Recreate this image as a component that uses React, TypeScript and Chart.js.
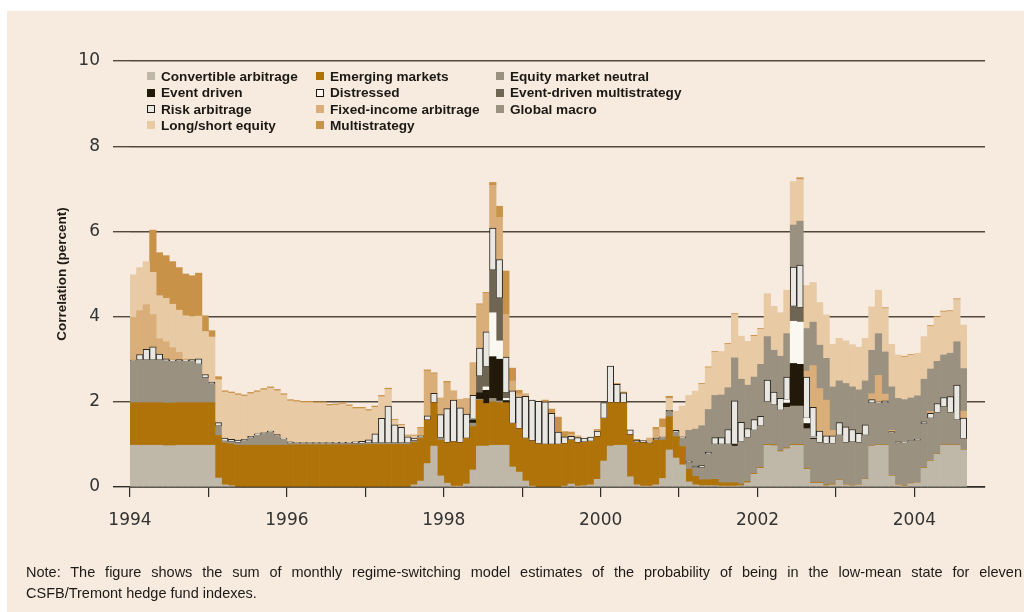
import React, { useEffect, useRef } from 'react';
import { Chart, registerables } from 'chart.js';

Chart.register(...registerables);

// Monthly values, Jan 1994 .. Aug 2004 (one row per year)
const convertibleArbitrage = [
  0.98, 0.98, 0.98, 0.98, 0.98, 0.97, 0.97, 0.98, 0.98, 0.98, 0.98, 0.98,
  0.98, 0.21, 0.05, 0.03, 0, 0, 0, 0, 0, 0, 0, 0,
  0, 0, 0, 0, 0, 0, 0, 0, 0, 0, 0, 0,
  0, 0, 0, 0, 0, 0, 0, 0.05, 0.14, 0.55, 0.96, 0.26,
  0.09, 0.02, 0.02, 0.07, 0.4, 0.96, 0.96, 0.98, 0.98, 0.98, 0.47, 0.35,
  0.14, 0.02, 0, 0, 0, 0, 0.02, 0.07, 0.02, 0.03, 0.05, 0.18,
  0.61, 0.96, 0.98, 0.98, 0.24, 0.05, 0.02, 0.02, 0.05, 0.2, 0.87, 0.68,
  0.52, 0.12, 0.05, 0.03, 0.03, 0.03, 0.02, 0.02, 0.02, 0.03, 0.1, 0.3,
  0.44, 0.98, 0.97, 0.83, 0.9, 0.98, 0.98, 0.42, 0.09, 0.09, 0.03, 0.05,
  0.16, 0.05, 0.03, 0.05, 0.18, 0.96, 0.98, 0.98, 0.26, 0.05, 0.02, 0.08,
  0.1, 0.44, 0.61, 0.77, 0.98, 0.98, 0.98, 0.87,
];

const emergingMarkets = [
  1.0, 1.0, 1.0, 1.0, 1.0, 1.0, 1.0, 1.0, 1.0, 1.0, 1.0, 1.0,
  1.0, 1.0, 0.98, 0.98, 0.98, 0.98, 0.98, 0.98, 0.98, 0.98, 0.98, 0.98,
  0.99, 0.99, 0.99, 0.99, 0.99, 0.99, 0.99, 0.99, 0.99, 0.99, 0.99, 0.99,
  1.0, 1.0, 1.0, 1.0, 1.0, 1.0, 1.0, 1.0, 1.0, 1.02, 1.02, 0.84,
  0.95, 1.04, 1.02, 1.07, 1.02, 1.08, 1.0, 1.02, 1.0, 1.0, 1.02, 1.02,
  1.0, 1.06, 1.01, 1.0, 1.0, 1.0, 1.0, 1.03, 1.02, 1.02, 1.02, 1.0,
  1.0, 1.02, 1.0, 1.0, 0.98, 1.0, 1.02, 1.0, 1.05, 0.9, 0.78, 0.5,
  0.43, 0.3, 0.2, 0.14, 0.14, 0.15, 0.08, 0.08, 0.08, 0.04, 0.03, 0.02,
  0.02, 0.02, 0.02, 0.02, 0.02, 0.02, 0.02, 0.02, 0.02, 0.02, 0.02, 0.02,
  0.01, 0.01, 0.01, 0.01, 0.01, 0.01, 0.01, 0.01, 0.01, 0.01, 0.01, 0.01,
  0.01, 0.01, 0.01, 0.01, 0.01, 0.01, 0.01, 0.01,
];

const equityMarketNeutral = [
  0.98, 1.0, 1.0, 1.0, 1.0, 0.98, 0.98, 0.98, 0.97, 0.97, 0.9, 0.58,
  0.44, 0.22, 0.04, 0.05, 0.06, 0.1, 0.17, 0.23, 0.27, 0.3, 0.22, 0.14,
  0.04, 0.03, 0.03, 0.03, 0.03, 0.03, 0.03, 0.03, 0.03, 0.03, 0.03, 0.03,
  0.03, 0.03, 0.03, 0.03, 0.03, 0.03, 0.03, 0.03, 0.03, 0, 0, 0.05,
  0, 0, 0, 0, 0.08, 0.02, 0, 0.08, 0.04, 0, 0, 0,
  0, 0, 0, 0, 0, 0, 0, 0, 0, 0, 0, 0,
  0, 0, 0, 0, 0, 0, 0, 0, 0, 0.06, 0.12, 0.1,
  0.2, 0.15, 0.2, 0.28, 0.6, 0.82, 0.9, 0.9, 0.86, 0.98, 1.03, 1.01,
  0.97, 1.0, 0.93, 0.95, 0.95, 0.9, 0.9, 0.93, 1.01, 0.93, 0.97, 0.95,
  1.04, 0.98, 1.01, 0.98, 1.02, 1.0, 0.98, 0.98, 1.0, 0.98, 1.0, 0.98,
  0.98, 1.03, 0.99, 0.96, 0.89, 0.75, 0.58, 0.25,
];

const eventDriven = [
  0, 0, 0, 0, 0, 0, 0, 0, 0, 0, 0, 0,
  0, 0, 0, 0, 0, 0, 0, 0, 0, 0, 0, 0,
  0, 0, 0, 0, 0, 0, 0, 0, 0, 0, 0, 0,
  0, 0, 0, 0, 0, 0, 0, 0, 0, 0, 0, 0,
  0, 0, 0, 0, 0.08, 0.15, 0.31, 0.98, 0.98, 0.05, 0, 0,
  0, 0, 0, 0, 0, 0, 0, 0, 0, 0, 0, 0,
  0, 0, 0, 0, 0, 0, 0, 0, 0, 0, 0, 0,
  0, 0, 0, 0, 0, 0, 0, 0, 0.04, 0, 0, 0,
  0, 0, 0, 0, 0.1, 1.0, 0.98, 0.12, 0.03, 0, 0, 0,
  0, 0, 0, 0, 0, 0, 0, 0, 0, 0, 0, 0,
  0, 0, 0, 0, 0, 0, 0, 0,
];

const distressed = [
  0, 0, 0, 0, 0, 0, 0, 0, 0, 0, 0, 0,
  0, 0, 0, 0, 0, 0, 0, 0, 0, 0, 0, 0,
  0, 0, 0, 0, 0, 0, 0, 0, 0, 0, 0, 0,
  0, 0, 0, 0, 0, 0, 0, 0, 0, 0, 0, 0,
  0, 0, 0, 0, 0.02, 0, 0.08, 1.03, 0.43, 0.05, 0, 0,
  0, 0, 0, 0, 0, 0, 0, 0, 0, 0, 0, 0,
  0, 0, 0, 0, 0, 0, 0, 0, 0, 0, 0, 0,
  0, 0, 0, 0, 0, 0, 0, 0, 0, 0, 0, 0,
  0, 0, 0, 0, 0.08, 0.99, 0.99, 0.12, 0.03, 0, 0, 0,
  0, 0, 0, 0, 0, 0, 0, 0, 0, 0, 0, 0,
  0, 0, 0, 0, 0, 0, 0, 0,
];

const eventDrivenMultistrategy = [
  0, 0, 0, 0, 0, 0, 0, 0, 0, 0, 0, 0,
  0, 0, 0, 0, 0, 0, 0, 0, 0, 0, 0, 0,
  0, 0, 0, 0, 0, 0, 0, 0, 0, 0, 0, 0,
  0, 0, 0, 0, 0, 0, 0, 0, 0, 0, 0, 0,
  0, 0, 0, 0, 0, 0.39, 0.47, 1.0, 1.0, 0.13, 0, 0,
  0, 0, 0, 0, 0, 0, 0, 0, 0, 0, 0, 0,
  0, 0, 0, 0, 0, 0, 0, 0, 0, 0, 0, 0,
  0, 0, 0, 0, 0, 0, 0, 0, 0, 0, 0, 0,
  0, 0, 0, 0, 0, 0.35, 0.34, 0, 0, 0, 0, 0,
  0, 0, 0, 0, 0, 0, 0, 0, 0, 0, 0, 0,
  0, 0, 0, 0, 0, 0, 0, 0,
];

const riskArbitrage = [
  0.02, 0.13, 0.25, 0.31, 0.14, 0.06, 0.03, 0.03, 0.03, 0.04, 0.13, 0.08,
  0.04, 0.08, 0.08, 0.06, 0.06, 0.04, 0.04, 0.04, 0.03, 0.03, 0.03, 0.03,
  0.03, 0.02, 0.02, 0.02, 0.02, 0.02, 0.02, 0.03, 0.03, 0.03, 0.04, 0.05,
  0.08, 0.22, 0.58, 0.87, 0.43, 0.37, 0.15, 0.07, 0.03, 0.1, 0.22, 0.55,
  0.8, 0.98, 0.82, 0.57, 0.55, 0.66, 0.82, 0.99, 0.91, 0.84, 0.77, 0.74,
  0.99, 0.96, 1.0, 1.0, 0.73, 0.29, 0.16, 0.09, 0.12, 0.1, 0.1, 0.13,
  0.37, 0.86, 0.43, 0.23, 0.12, 0.05, 0.05, 0.03, 0.05, 0.02, 0.03, 0.05,
  0.03, 0.04, 0.04, 0.05, 0.05, 0.16, 0.16, 0.35, 1.02, 0.47, 0.21, 0.25,
  0.23, 0.51, 0.31, 0.28, 0.53, 0.92, 1.0, 0.97, 0.69, 0.27, 0.18, 0.18,
  0.3, 0.37, 0.3, 0.22, 0.25, 0.08, 0.03, 0.05, 0.03, 0.02, 0.02, 0.02,
  0.03, 0.05, 0.12, 0.22, 0.22, 0.38, 0.82, 0.49,
];

const fixedIncomeArbitrage = [
  1.0, 1.03, 1.05, 0.76, 0.36, 0.4, 0.29, 0.17, 0.02, 0, 0, 0,
  0, 0, 0, 0, 0, 0, 0, 0, 0, 0, 0, 0,
  0, 0, 0, 0, 0, 0, 0, 0, 0, 0, 0, 0,
  0, 0, 0, 0, 0, 0, 0, 0, 0.18, 1.05, 0.46, 0.39,
  0.61, 0.22, 0.2, 0.37, 0.77, 1.02, 0.91, 1.0, 0.99, 1.0, 0.23, 0.08,
  0.06, 0, 0, 0, 0, 0, 0, 0.05, 0.04, 0, 0, 0.02,
  0, 0, 0, 0, 0, 0, 0, 0.1, 0.2, 0, 0, 0,
  0, 0, 0, 0, 0, 0, 0, 0, 0, 0, 0, 0,
  0, 0, 0, 0, 0, 0, 0, 0.14, 0.98, 1.0, 0.84, 0.13,
  0, 0, 0, 0, 0, 0.14, 0.62, 0.16, 0.03, 0, 0, 0,
  0, 0, 0.04, 0, 0, 0, 0, 0.16,
];

const globalMacro = [
  0, 0, 0, 0, 0, 0, 0, 0, 0, 0, 0, 0,
  0, 0, 0, 0, 0, 0, 0, 0, 0, 0, 0, 0,
  0, 0, 0, 0, 0, 0, 0, 0, 0, 0, 0, 0,
  0, 0, 0, 0, 0, 0, 0, 0, 0, 0, 0, 0,
  0, 0, 0, 0, 0, 0, 0, 0, 0, 0, 0, 0,
  0, 0, 0, 0, 0, 0, 0, 0, 0, 0, 0, 0,
  0, 0, 0, 0, 0, 0, 0, 0, 0, 0, 0, 0,
  0, 0.72, 0.87, 0.94, 1.0, 0.99, 1.0, 0.98, 1.01, 1.01, 1.02, 1.0,
  1.22, 1.02, 0.98, 0.99, 1.02, 0.99, 1.03, 1.0, 1.02, 1.02, 0.98, 1.02,
  0.98, 1.02, 1.0, 1.02, 1.03, 1.02, 0.98, 0.99, 1.02, 1.02, 1.0, 1.0,
  1.02, 1.0, 1.0, 0.99, 1.0, 1.02, 1.02, 1.0,
];

const longShortEquity = [
  1.0, 1.01, 1.01, 0.99, 1.01, 1.02, 1.02, 0.99, 1.02, 1.01, 1.0, 1.01,
  1.06, 1.01, 1.08, 1.08, 1.06, 1.01, 1.0, 0.98, 1.0, 1.01, 1.03, 1.01,
  0.96, 0.96, 0.94, 0.94, 0.93, 0.93, 0.87, 0.87, 0.9, 0.85, 0.78, 0.77,
  0.68, 0.62, 0.51, 0.39, 0.11, 0.05, 0.02, 0.05, 0, 0, 0, 0,
  0, 0, 0, 0, 0, 0, 0, 0, 0, 0, 0, 0,
  0, 0, 0, 0, 0, 0, 0, 0, 0, 0, 0, 0,
  0, 0, 0, 0, 0, 0, 0, 0, 0, 0.22, 0.28, 0.45,
  0.72, 0.82, 0.89, 0.97, 0.98, 1.01, 1.02, 1.02, 1.02, 1.01, 1.03, 0.96,
  0.82, 1.01, 1.03, 1.02, 1.02, 1.02, 0.98, 1.01, 0.93, 1.0, 1.02, 1.0,
  1.0, 1.0, 0.99, 1.0, 1.0, 1.02, 1.02, 1.02, 1.0, 1.02, 1.0, 1.0,
  1.0, 1.0, 1.0, 1.03, 1.01, 0.98, 0.99, 1.02,
];

const multistrategy = [
  0, 0, 0, 0.99, 1.01, 1.0, 1.0, 1.0, 0.98, 0.96, 1.01, 0.37,
  0.15, 0.07, 0.03, 0.03, 0.03, 0.03, 0.03, 0.03, 0.03, 0.03, 0.03, 0.03,
  0.03, 0.03, 0.03, 0.03, 0.03, 0.03, 0.03, 0.03, 0.03, 0.03, 0.03, 0.03,
  0.03, 0.03, 0.03, 0.03, 0.02, 0.02, 0.02, 0.02, 0.02, 0.03, 0.02, 0,
  0.03, 0, 0, 0, 0, 0.02, 0.02, 0.07, 0.26, 1.02, 0.3, 0.08,
  0, 0, 0, 0.04, 0.1, 0.35, 0.12, 0.05, 0, 0, 0, 0.02,
  0, 0, 0.02, 0.02, 0, 0.02, 0, 0, 0.05, 0.2, 0.05, 0,
  0, 0, 0, 0.02, 0.02, 0.02, 0, 0.02, 0.02, 0, 0, 0.02,
  0.02, 0, 0, 0, 0, 0, 0.04, 0, 0, 0, 0, 0,
  0, 0, 0, 0, 0, 0, 0, 0.02, 0, 0, 0.02, 0.02,
  0, 0, 0.02, 0.02, 0.02, 0.02, 0.02, 0,
];

const seriesNames = [
  'Convertible arbitrage', 'Emerging markets', 'Equity market neutral',
  'Event driven', 'Distressed', 'Event-driven multistrategy',
  'Risk arbitrage', 'Fixed-income arbitrage', 'Global macro',
  'Long/short equity', 'Multistrategy',
];
const seriesValues = [
  convertibleArbitrage, emergingMarkets, equityMarketNeutral,
  eventDriven, distressed, eventDrivenMultistrategy,
  riskArbitrage, fixedIncomeArbitrage, globalMacro,
  longShortEquity, multistrategy,
];
const seriesColors = [
  '#bfb8a9', '#b0730a', '#9a9181',
  '#23190b', '#fbf8f2', '#6f6553',
  '#e9e7e2', '#d9ae79', '#9a9181',
  '#e8caa5', '#c99249',
];
const seriesOutlined = [false, false, false, false, true, false, true, false, false, false, false];
const seriesBarBorder = [0, 0, 0, 0, 0, 0, 1, 0, 0, 0, 0];

const firstYear = 1994;
const yTickStep = 2;
const xLabelYears = [1994, 1996, 1998, 2000, 2002, 2004];
const monthPositions = convertibleArbitrage.map((_, i) => firstYear + (i + 0.5) / 12);

const BG = '#f6ebde';
const TICK_FONT = 'DejaVu Sans';
const TEXT_FONT = '"Liberation Sans", Arial, sans-serif';

export default function App() {
  const canvasRef = useRef<HTMLCanvasElement | null>(null);

  useEffect(() => {
    const canvas = canvasRef.current;
    if (!canvas) return;
    const chart = new Chart(canvas, {
      type: 'bar',
      data: {
        datasets: seriesValues.map((vals, k) => ({
          label: seriesNames[k],
          data: vals.map((v, i) => ({ x: monthPositions[i], y: v === 0 ? null : v })),
          backgroundColor: seriesColors[k],
          borderColor: '#2a241c',
          borderWidth: seriesBarBorder[k],
          borderSkipped: false,
          barPercentage: 1,
          categoryPercentage: 1,
        })),
      } as any,
      options: {
        responsive: false,
        animation: false,
        devicePixelRatio: 1,
        events: [],
        layout: { padding: { top: 61, right: 39, bottom: 0, left: 0 } },
        plugins: { legend: { display: false }, tooltip: { enabled: false } },
        scales: {
          x: {
            type: 'linear',
            min: 1994,
            max: 2004.9,
            stacked: true,
            offset: false,
            grid: { drawOnChartArea: false, drawTicks: true, tickLength: 10, color: '#2f2b27', lineWidth: 1.2, offset: false },
            border: { display: true, color: '#2f2b27', width: 1.5 },
            ticks: {
              stepSize: 1,
              includeBounds: false,
              autoSkip: false,
              maxRotation: 0,
              padding: 13,
              color: '#333',
              font: { family: TICK_FONT, size: 17 },
              callback: (v: any) => (xLabelYears.includes(Number(v)) ? String(v) : ''),
            },
            afterFit: (s: any) => { s.height = 125; },
          },
          y: {
            stacked: true,
            min: 0,
            max: 10,
            ticks: { stepSize: yTickStep, padding: 13, color: '#333', font: { family: TICK_FONT, size: 17 } },
            grid: {
              drawTicks: true,
              tickLength: 17,
              lineWidth: 1.4,
              color: (c: any) => (c.tick && c.tick.value === 0 ? '#2f2b27' : '#51483e'),
            },
            border: { display: false },
            title: {
              display: true,
              text: 'Correlation (percent)',
              color: '#1e1a16',
              font: { family: 'Liberation Sans', weight: 'bold', size: 13.5 },
              padding: { top: 54, bottom: 0 },
            },
            afterFit: (s: any) => { s.width = 130; },
          },
        },
      } as any,
    });
    return () => chart.destroy();
  }, []);

  const colX = [147, 316, 496];
  const rowY = [76, 92.5, 109, 125];

  return (
    <div style={{ position: 'absolute', left: 0, top: 0, width: 1024, height: 612, background: '#ffffff', overflow: 'hidden' }}>
      <div style={{ position: 'absolute', left: 7, top: 11, right: 0, bottom: 0, background: BG }} />
      <canvas ref={canvasRef} width={1024} height={612} style={{ position: 'absolute', left: 0, top: 0 }} />
      {seriesNames.map((name, k) => (
        <div
          key={name}
          style={{
            position: 'absolute',
            left: colX[k % 3],
            top: rowY[Math.floor(k / 3)] - 9,
            height: 18,
            display: 'flex',
            alignItems: 'center',
            whiteSpace: 'nowrap',
            font: `bold 13.6px ${TEXT_FONT}`,
            color: '#1c1915',
          }}
        >
          <span
            style={{
              display: 'inline-block',
              width: 8,
              height: 8,
              boxSizing: 'border-box',
              background: seriesColors[k],
              border: seriesOutlined[k] ? '1px solid #1c1915' : 'none',
              marginRight: 6,
            }}
          />
          <span>{name}</span>
        </div>
      ))}
      <div style={{ position: 'absolute', left: 26, top: 562, width: 996, font: `14.5px ${TEXT_FONT}`, lineHeight: '21px', color: '#1d1a17' }}>
        <div style={{ textAlign: 'justify', textAlignLast: 'justify' } as any}>
          Note: The figure shows the sum of monthly regime-switching model estimates of the probability of being in the low-mean state for eleven
        </div>
        <div>CSFB/Tremont hedge fund indexes.</div>
      </div>
    </div>
  );
}
